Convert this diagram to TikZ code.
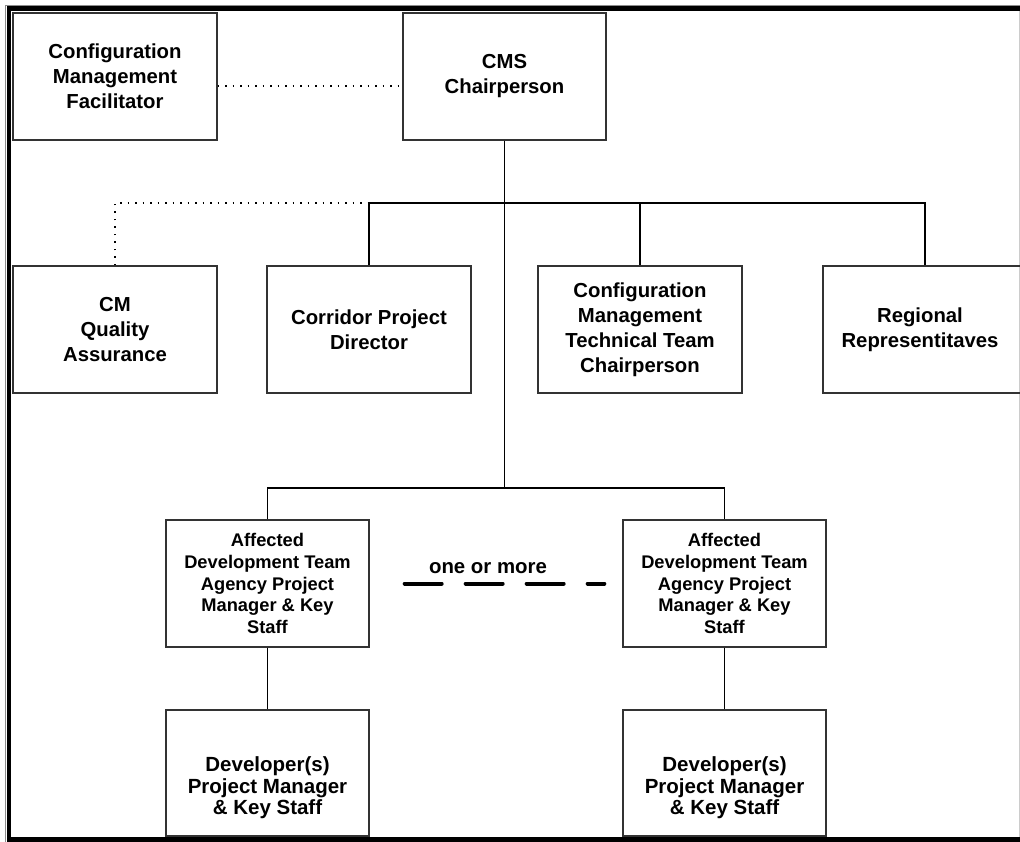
\documentclass[tikz,border=0pt]{standalone}
\usepackage{fontspec}
\setmainfont{Liberation Sans}
\begin{document}
\begin{tikzpicture}[x=1pt,y=-1pt,
  box/.style={draw=black!80,line width=1.3pt,rectangle,inner sep=0pt,
    minimum width=203pt,minimum height=127pt,align=center,
    font=\fontsize{20.3}{25}\selectfont\bfseries},
  boxtext/.style={align=center,inner sep=0pt,font=\fontsize{20.3}{25}\selectfont\bfseries},
  affbox/.style={box,font=\fontsize{18.3}{21.8}\selectfont\bfseries},
  devtext/.style={align=center,inner sep=0pt,font=\fontsize{20.5}{21.5}\selectfont\bfseries},
  link/.style={draw=black,line width=1.3pt},
  dotlink/.style={draw=black,line width=1.5pt,dash pattern=on 1.5pt off 6pt},
  many/.style={draw=black,line width=4pt,line cap=round,dash pattern=on 37pt off 24pt}]
\useasboundingbox (0,0) rectangle (1020,842);
\begin{scope}
\clip (0,0) rectangle (1020,842);
% frame
\draw[black!45,line width=1pt] (5.5,5) -- (5.5,842);
\draw[black!45,line width=1pt] (5,5.5) -- (1020,5.5);
\fill[black] (6.5,6.5) rectangle (11,842);
\fill[black] (6.5,6.5) rectangle (1020,11);
\fill[black] (6.5,837) rectangle (1020,842);
\draw[black!20,line width=1pt] (1019.5,11) -- (1019.5,837);
% nodes
\node[box,minimum width=204pt] (cmf) at (115,76.5) {Configuration\\Management\\Facilitator};
\node[box] (cms) at (504.5,76.5) {CMS\\Chairperson};
\node[box,minimum width=204pt] (cmqa) at (115,329.5) {CM\\Quality\\Assurance};
\node[box,minimum width=204pt] (corr) at (369,329.5) {Corridor Project\\Director};
\node[box,minimum width=204pt] (cmttc) at (640,329.5) {Configuration\\Management\\Technical Team\\Chairperson};
\node[box,minimum width=204pt] (reg) at (925,329.5) {};
\node[boxtext] (regt) at (920,330) {Regional\\Representitaves};
\node[affbox] (aff1) at (267.5,583.5) {Affected\\Development Team\\Agency Project\\Manager \& Key\\Staff};
\node[affbox] (aff2) at (724.5,583.5) {Affected\\Development Team\\Agency Project\\Manager \& Key\\Staff};
\node[box,minimum height=126pt] (dev1) at (267.5,773) {};
\node[devtext] (dev1t) at (267.5,788) {Developer(s)\\Project Manager\\\& Key Staff};
\node[box,minimum height=126pt] (dev2) at (724.5,773) {};
\node[devtext] (dev2t) at (724.5,788) {Developer(s)\\Project Manager\\\& Key Staff};
\node[anchor=base,inner sep=0pt,font=\fontsize{20.4}{24}\selectfont\bfseries] (more) at (488,573) {one or more};
% junctions
\coordinate (j1) at (504.5,203);
\coordinate (j2) at (504.5,488);
% connectors
\draw[dotlink] ([yshift=-9.5pt]cmf.east) -- ([yshift=-9.5pt]cms.west);
\draw[link] (cms.south) -- (j2);
\draw[link] (corr.north) |- (j1) -| (reg.north);
\draw[link] (j1) -| (cmttc.north);
\draw[dotlink] (cmqa.north) |- (corr.north |- j1);
\draw[link] (aff1.north) |- (j2) -| (aff2.north);
\draw[link] (aff1.south) -- (dev1.north);
\draw[link] (aff2.south) -- (dev2.north);
\draw[many] ([xshift=35pt]aff1.east) -- ([xshift=-18pt]aff2.west);
\end{scope}
\end{tikzpicture}
\end{document}
